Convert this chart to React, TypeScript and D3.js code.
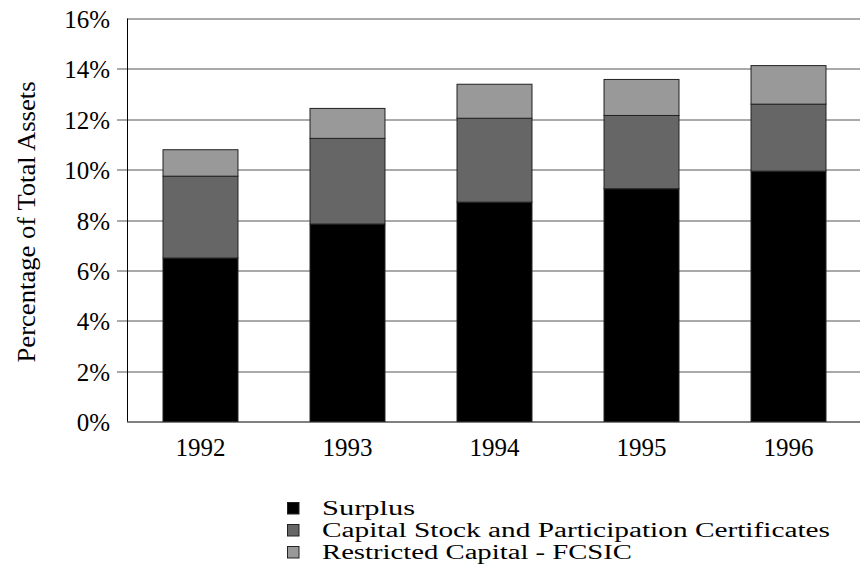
import * as React from 'react';
import * as d3 from 'd3';

const years = ['1992', '1993', '1994', '1995', '1996'];
const surplus = [6.49, 7.84, 8.71, 9.24, 9.94];
const capitalStock = [3.25, 3.4, 3.33, 2.91, 2.66];
const restricted = [1.05, 1.19, 1.35, 1.43, 1.53];
const yTicks = [0, 2, 4, 6, 8, 10, 12, 14, 16];

const seriesKeys = ['surplus', 'capital', 'restricted'];
const seriesNames = ['Surplus', 'Capital Stock and Participation Certificates', 'Restricted Capital - FCSIC'];
const seriesColors = ['#000000', '#666666', '#999999'];
// widths the legend labels take in the reference (its font is wider than ours)
const legendWidths = [93, 508, 310];

const W = 860;
const H = 572;
const margin = { top: 18.5, right: 0, bottom: 150.5, left: 127 };
const FONT = '"Liberation Serif", "DejaVu Serif", serif';

export default function App() {
  const innerW = W - margin.left - margin.right;
  const innerH = H - margin.top - margin.bottom;

  const x = d3.scaleBand().domain(years).range([36, 699]).paddingInner(0.49).paddingOuter(0);
  const y = d3.scaleLinear().domain([0, 16]).range([innerH, 0]);

  const rows = years.map((yr, i) => ({ year: yr, surplus: surplus[i], capital: capitalStock[i], restricted: restricted[i] }));
  const stacked = d3.stack<any>().keys(seriesKeys)(rows);

  return (
    <svg width={W} height={H} style={{ position: 'absolute', left: 0, top: 0 }} fontFamily={FONT}>
      <rect width={W} height={H} fill="#fff" />
      <g transform={`translate(${margin.left},${margin.top})`}>
        {yTicks.map(t => (
          <g key={t} transform={`translate(0,${Math.round(y(t)) + 0.5})`}>
            <line x1={t === 0 || t === 16 ? 0 : -10} x2={innerW} stroke={t === 0 ? '#000' : '#555'} strokeWidth={1} />
            <text x={-17} dy="0.35em" textAnchor="end" fontSize={25} fill="#000">{t}%</text>
          </g>
        ))}
        <line x1={0.5} x2={0.5} y1={0} y2={innerH} stroke="#000" />
        {stacked.map((s, si) => (
          <g key={s.key} fill={seriesColors[si]} stroke="#222" strokeWidth={1}>
            {s.map((d: any) => (
              <rect key={d.data.year} x={x(d.data.year)} y={y(d[1])} width={x.bandwidth()} height={y(d[0]) - y(d[1])} />
            ))}
          </g>
        ))}
        {years.map(yr => (
          <text key={yr} x={x(yr)! + x.bandwidth() / 2} y={innerH + 34} textAnchor="middle" fontSize={25} fill="#000">{yr}</text>
        ))}
        <text transform={`translate(${-92},${innerH / 2 + 2}) rotate(-90)`} textAnchor="middle" fontSize={25} fill="#000"
          textLength={281} lengthAdjust="spacingAndGlyphs">Percentage of Total Assets</text>
      </g>
      <g transform="translate(287,502)">
        {seriesNames.map((n, i) => (
          <g key={n}>
            <rect x={0.5} y={0.5 + i * 22} width={11.5} height={11.5} fill={seriesColors[i]} stroke="#222" />
            <text x={35} y={13 + i * 22} fontSize={20} fill="#000"
              textLength={legendWidths[i]} lengthAdjust="spacingAndGlyphs">{n}</text>
          </g>
        ))}
      </g>
    </svg>
  );
}
